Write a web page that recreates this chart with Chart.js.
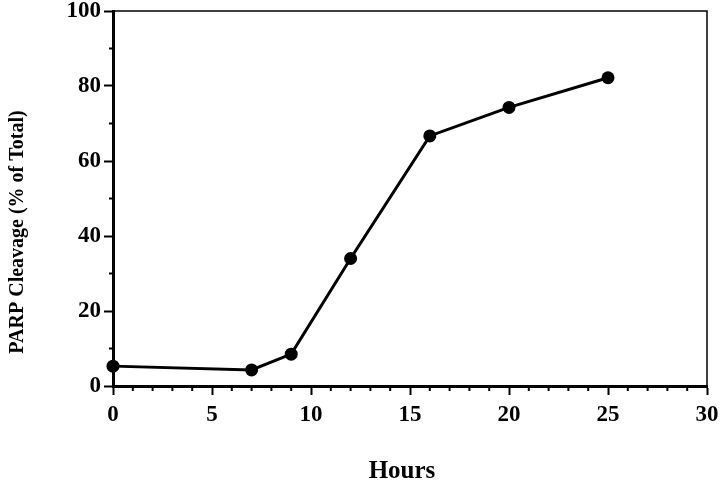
<!DOCTYPE html>
<html>
<head>
<meta charset="utf-8">
<script src="https://cdn.jsdelivr.net/npm/chart.js@4.4.0/dist/chart.umd.min.js"></script>
<style>
  html, body { margin: 0; padding: 0; background: #fff; }
  #wrap { width: 720px; height: 484px; }
</style>
</head>
<body>
<div id="wrap"><canvas id="chart"></canvas></div>
<script>
// values
const hours = [0, 7, 9, 12, 16, 20, 25];
const cleavage = [5.3, 4.3, 8.5, 34, 66.7, 74.3, 82.2];
const xTitle = 'Hours';
const yTitle = 'PARP Cleavage (% of Total)';

const serif = '"Liberation Serif", "DejaVu Serif", serif';

// frame on top/right, minor ticks, axis titles
const extras = {
  id: 'extras',
  afterDraw(chart) {
    const { ctx, chartArea: a, scales: { x, y } } = chart;
    ctx.save();
    ctx.strokeStyle = '#000';

    // thin frame top and right
    ctx.lineWidth = 1.5;
    ctx.beginPath();
    ctx.moveTo(a.left, a.top);
    ctx.lineTo(a.right, a.top);
    ctx.lineTo(a.right, a.bottom);
    ctx.stroke();

    // minor ticks
    ctx.lineWidth = 2;
    ctx.beginPath();
    for (let v = 1; v < 30; v++) {
      if (v % 5 === 0) continue;
      const px = x.getPixelForValue(v);
      ctx.moveTo(px, a.bottom);
      ctx.lineTo(px, a.bottom + 5);
    }
    for (let v = 10; v < 100; v += 20) {
      const py = y.getPixelForValue(v);
      ctx.moveTo(a.left, py);
      ctx.lineTo(a.left - 4, py);
    }
    ctx.stroke();

    // titles
    ctx.fillStyle = '#000';
    ctx.textAlign = 'center';
    ctx.textBaseline = 'middle';
    ctx.font = 'bold 25px ' + serif;
    ctx.fillText(xTitle, 402, 472);

    ctx.translate(18, 232);
    ctx.rotate(-Math.PI / 2);
    ctx.font = 'bold 20px ' + serif;
    ctx.fillText(yTitle, 0, 0);
    ctx.restore();
  }
};

new Chart(document.getElementById('chart'), {
  type: 'line',
  data: {
    datasets: [{
      data: hours.map((h, i) => ({ x: h, y: cleavage[i] })),
      borderColor: '#000',
      backgroundColor: '#000',
      borderWidth: 3,
      pointRadius: 6.5,
      pointHoverRadius: 6.5,
      pointBackgroundColor: '#000',
      pointBorderWidth: 0,
      tension: 0,
      clip: false
    }]
  },
  options: {
    responsive: true,
    maintainAspectRatio: false,
    animation: false,
    layout: { padding: { top: 11, right: 13, left: 0, bottom: 0 } },
    plugins: {
      legend: { display: false },
      tooltip: { enabled: false }
    },
    scales: {
      x: {
        type: 'linear',
        min: 0,
        max: 30,
        afterFit: (s) => {
          s.height = 98;
          s.paddingLeft = 0;
          s.paddingRight = 0;
        },
        ticks: {
          stepSize: 5,
          color: '#000',
          padding: 6,
          font: { family: serif, weight: 'bold', size: 23 }
        },
        grid: {
          drawOnChartArea: false,
          drawTicks: true,
          tickLength: 9,
          tickWidth: 2,
          tickColor: '#000'
        },
        border: { display: true, color: '#000', width: 3 }
      },
      y: {
        min: 0,
        max: 100,
        afterFit: (s) => {
          s.width = 113;
          s.paddingTop = 0;
          s.paddingBottom = 0;
        },
        ticks: {
          stepSize: 20,
          color: '#000',
          padding: 3,
          font: { family: serif, weight: 'bold', size: 23 }
        },
        grid: {
          drawOnChartArea: false,
          drawTicks: true,
          tickLength: 9,
          tickWidth: 2,
          tickColor: '#000'
        },
        border: { display: true, color: '#000', width: 3 }
      }
    }
  },
  plugins: [extras]
});
</script>
</body>
</html>
